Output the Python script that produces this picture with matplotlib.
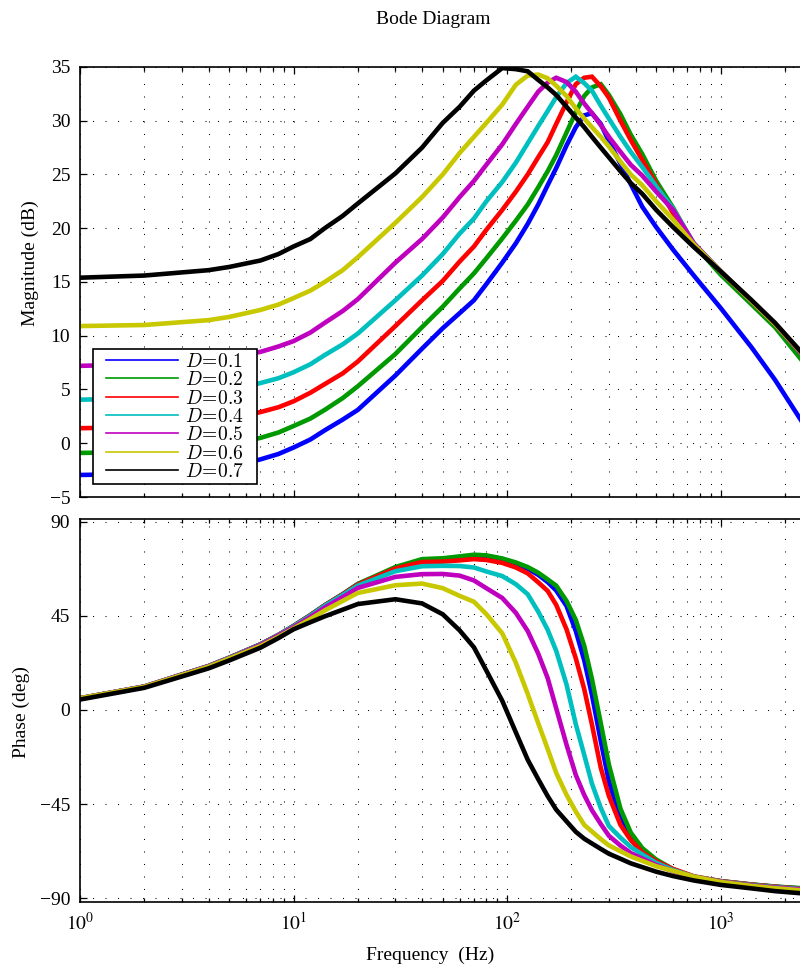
import matplotlib
matplotlib.use('Agg')
import matplotlib.pyplot as plt
import numpy as np
from matplotlib.lines import Line2D
from matplotlib.patches import Rectangle
from matplotlib.legend_handler import HandlerLine2D
from matplotlib.ticker import FixedLocator, FuncFormatter, LogLocator, NullFormatter

# frequency grid (Hz)
freq = [1, 2, 4, 5, 7, 8.5, 10, 12, 14, 17, 20, 30, 40, 50, 60, 70, 80, 95, 110, 125, 140, 155, 170, 190,
        210, 230, 250, 275, 300, 340, 380, 430, 500, 600, 750, 1000, 1400, 1800, 2500]

duty = [0.1, 0.2, 0.3, 0.4, 0.5, 0.6, 0.7]

# magnitude (dB)
mag_d1 = [-2.95, -2.85, -2.5, -2.2, -1.5, -1.0, -0.4, 0.35, 1.2, 2.2, 3.1, 6.3, 8.8, 10.7, 12.1, 13.3, 14.8, 16.8, 18.6, 20.4, 22.2, 24.0, 25.6, 27.7,
          29.4, 30.5, 30.7, 29.7, 28.1, 26.0, 24.1, 22.0, 20.1, 18.0, 15.6, 12.6, 8.9, 5.9, 1.5]
mag_d2 = [-0.9, -0.8, -0.4, -0.1, 0.5, 1.0, 1.6, 2.3, 3.1, 4.2, 5.3, 8.3, 10.8, 12.7, 14.4, 15.8, 17.2, 19.05, 20.7, 22.2, 23.8, 25.3, 26.8, 28.9,
          30.8, 32.3, 33.1, 33.4, 32.4, 30.6, 28.7, 26.9, 24.4, 21.9, 18.5, 15.7, 12.9, 10.8, 7.3]
mag_d3 = [1.4, 1.5, 1.9, 2.25, 2.9, 3.35, 3.9, 4.7, 5.5, 6.5, 7.6, 10.9, 13.3, 15.1, 16.9, 18.3, 19.85, 21.7, 23.4, 25.0, 26.6, 28.0, 29.7, 31.7,
          33.4, 34.0, 34.1, 33.2, 32.15, 30.0, 28.2, 26.35, 24.1, 21.4, 18.5, 16.0, 13.2, 11.1, 7.9]
mag_d4 = [4.05, 4.2, 4.6, 4.95, 5.6, 6.05, 6.6, 7.35, 8.2, 9.2, 10.2, 13.3, 15.6, 17.6, 19.5, 20.9, 22.5, 24.3, 26.1, 27.9, 29.5, 30.9, 32.2, 33.5,
          34.1, 33.5, 32.8, 31.4, 30.2, 28.5, 27.1, 25.7, 23.9, 21.8, 18.6, 16.0, 13.2, 11.1, 7.9]
mag_d5 = [7.2, 7.35, 7.8, 8.0, 8.5, 9.0, 9.5, 10.3, 11.2, 12.3, 13.4, 16.8, 19.0, 21.0, 22.9, 24.4, 25.9, 27.8, 29.7, 31.3, 32.7, 33.55, 34.0, 33.6,
          32.7, 31.6, 30.7, 29.6, 28.5, 27.1, 25.9, 24.9, 23.4, 21.7, 18.6, 16.0, 13.2, 11.1, 7.9]
mag_d6 = [10.9, 11.0, 11.45, 11.75, 12.4, 12.9, 13.5, 14.2, 15.0, 16.1, 17.3, 20.5, 22.9, 25.0, 27.0, 28.5, 29.8, 31.5, 33.35, 34.2, 34.3, 33.95, 33.26, 32.3,
          31.15, 30.2, 29.4, 28.5, 27.6, 26.2, 25.0, 24.0, 22.5, 20.8, 18.5, 16.0, 13.2, 11.1, 8.0]
mag_d7 = [15.4, 15.6, 16.1, 16.4, 17.0, 17.6, 18.3, 19.0, 20.0, 21.15, 22.3, 25.1, 27.5, 29.8, 31.3, 32.8, 33.75, 34.9, 34.8, 34.6, 33.8, 33.1, 32.4, 31.3,
          30.3, 29.4, 28.5, 27.5, 26.6, 25.3, 24.2, 23.2, 21.7, 20.1, 18.25, 16.0, 13.3, 11.2, 8.05]

# phase (deg)
ph_d1 = [5.6, 11.2, 21.0, 25.0, 31.4, 35.9, 40.2, 45.4, 50.1, 55.4, 60.2, 68.0, 71.7, 72.1, 73.0, 73.8, 73.7, 72.3, 70.0, 67.6, 64.7, 61.2, 57.2, 49.8,
         37.8, 23.8, 7.2, -14.9, -34.1, -51.7, -61.0, -68.0, -72.6, -76.6, -79.9, -82.0, -83.6, -84.6, -85.6]
ph_d2 = [5.6, 11.2, 21.0, 25.0, 31.4, 35.9, 40.2, 45.4, 50.1, 55.4, 60.3, 68.4, 72.2, 72.6, 73.5, 74.3, 74.0, 72.5, 70.6, 68.4, 65.7, 62.5, 59.5, 52.2,
         43.1, 30.7, 14.8, -6.4, -26.1, -47.3, -58.7, -66.1, -71.6, -76.2, -79.8, -81.9, -83.5, -84.5, -85.4]
ph_d3 = [5.6, 11.2, 21.0, 25.0, 31.4, 35.9, 40.1, 45.3, 50.0, 55.3, 60.0, 67.7, 70.8, 71.0, 71.6, 72.2, 71.8, 70.4, 68.2, 65.4, 61.1, 57.0, 50.3, 38.6,
         24.7, 10.0, -7.0, -27.7, -41.1, -55.0, -62.3, -68.1, -72.4, -76.1, -79.6, -81.9, -83.6, -84.6, -85.8]
ph_d4 = [5.6, 11.2, 21.0, 25.0, 31.3, 35.8, 40.0, 45.1, 49.8, 55.0, 59.5, 66.4, 68.8, 69.0, 68.9, 68.2, 66.3, 64.1, 60.2, 55.4, 47.1, 38.4, 28.3, 12.2,
         -6.8, -21.5, -35.3, -46.9, -55.5, -61.1, -65.6, -69.1, -73.2, -76.6, -79.8, -82.1, -83.8, -84.8, -85.9]
ph_d5 = [5.6, 11.2, 20.9, 24.8, 31.1, 35.6, 39.6, 44.5, 49.0, 54.0, 58.4, 63.7, 65.0, 65.1, 64.3, 62.0, 58.3, 53.6, 46.5, 37.8, 27.0, 15.3, 0.8, -16.6,
         -31.1, -40.7, -48.0, -54.6, -60.2, -64.9, -68.5, -71.1, -74.2, -77.2, -80.0, -82.2, -84.0, -85.0, -86.1]
ph_d6 = [5.6, 11.1, 20.7, 24.6, 30.6, 35.0, 39.0, 43.5, 47.6, 52.2, 56.0, 59.7, 60.5, 58.3, 54.6, 51.8, 45.9, 36.7, 22.6, 7.7, -6.3, -18.6, -30.1, -40.6,
         -48.6, -55.0, -58.2, -61.8, -64.8, -67.6, -70.1, -72.2, -74.8, -77.0, -79.8, -82.3, -84.2, -85.3, -86.5]
ph_d7 = [5.0, 10.6, 19.9, 23.7, 29.8, 34.4, 38.6, 42.0, 44.8, 48.0, 50.7, 53.0, 51.0, 45.8, 38.1, 30.0, 18.9, 4.4, -10.7, -23.8, -33.1, -41.2, -47.7, -53.3,
         -58.3, -61.6, -63.9, -66.5, -68.8, -71.2, -73.4, -75.2, -77.4, -79.5, -81.6, -83.7, -85.4, -86.7, -87.9]

mags = [mag_d1, mag_d2, mag_d3, mag_d4, mag_d5, mag_d6, mag_d7]
phases = [ph_d1, ph_d2, ph_d3, ph_d4, ph_d5, ph_d6, ph_d7]
colors = ['#0000ff', '#009900', '#ff0000', '#00bfbf', '#bf00bf', '#c8c800', '#000000']

mag_ticks = [-5, 0, 5, 10, 15, 20, 25, 30, 35]
phase_ticks = [-90, -45, 0, 45, 90]

plt.rcParams['font.family'] = ['Liberation Serif', 'DejaVu Serif']
plt.rcParams['mathtext.fontset'] = 'stix'
plt.rcParams['font.size'] = 14

W, H = 800, 971
fig = plt.figure(figsize=(W / 100, H / 100), dpi=100)
# axes run past the right edge, like the cropped original
ax1 = fig.add_axes([80 / W, 1 - 497 / H, 760 / W, 430 / H])
ax2 = fig.add_axes([80 / W, 1 - 902 / H, 760 / W, 383 / H])

xmax = 10 ** (760 / 213.5)
grid_ls = (0, (1, 11))

for ax in (ax1, ax2):
    ax.set_xscale('log')
    ax.set_xlim(1, xmax)
    ax.xaxis.set_major_locator(LogLocator(base=10, numticks=10))
    ax.xaxis.set_minor_locator(LogLocator(base=10, subs=np.arange(2, 10), numticks=20))
    ax.xaxis.set_minor_formatter(NullFormatter())
    ax.tick_params(which='both', direction='in', top=True, right=True, width=0.9)
    ax.tick_params(which='major', length=5, pad=7)
    ax.tick_params(which='minor', length=3)
    ax.grid(True, which='major', linestyle=grid_ls, color='k', lw=0.75)
    ax.grid(True, which='minor', axis='x', linestyle=grid_ls, color='k', lw=0.75)
    for s in ax.spines.values():
        s.set_linewidth(1.2)

for m, c in zip(mags, colors):
    ax1.plot(freq, m, color=c, lw=3.3, solid_joinstyle='miter')
for p, c in zip(phases, colors):
    ax2.plot(freq, p, color=c, lw=3.3, solid_joinstyle='miter')

ax1.set_ylim(-5, 35)
ax1.yaxis.set_major_locator(FixedLocator(mag_ticks))
ax1.xaxis.set_major_formatter(NullFormatter())

ax2.set_ylim(-91.9, 91.4)
ax2.yaxis.set_major_locator(FixedLocator(phase_ticks))
ax2.xaxis.set_major_formatter(FuncFormatter(lambda v, pos: r'$10^{%d}$' % round(np.log10(v))))

# legend box drawn by hand so the padding is even left and right
ax1.add_patch(Rectangle((13 / 760, 13 / 430), 164 / 760, 135 / 430, transform=ax1.transAxes,
                        facecolor='white', edgecolor='k', lw=1.2, zorder=4))
handles = [Line2D([], [], color=c, lw=1.2) for c in colors]
labels = [r'$D\!=\!%.1f$' % d for d in duty]
leg = ax1.legend(handles, labels, loc='lower left', bbox_to_anchor=(13 / 760, 13 / 430),
                 borderaxespad=0, frameon=False,
                 prop={'size': 14, 'math_fontfamily': 'cm'},
                 handler_map={Line2D: HandlerLine2D(xpad=0.5)},
                 handlelength=4.2, handletextpad=0.4, labelspacing=0.02, borderpad=0.15)
leg.set_zorder(5)

fig.text(433 / W, 1 - 19 / H, 'Bode Diagram', ha='center', va='center')
fig.text(30 / W, 1 - 263 / H, 'Magnitude (dB)', ha='center', va='center', rotation=90)
fig.text(21 / W, 1 - 712 / H, 'Phase (deg)', ha='center', va='center', rotation=90)
fig.text(430 / W, 1 - 955 / H, 'Frequency  (Hz)', ha='center', va='center')

fig.savefig('out.png', dpi=100)
